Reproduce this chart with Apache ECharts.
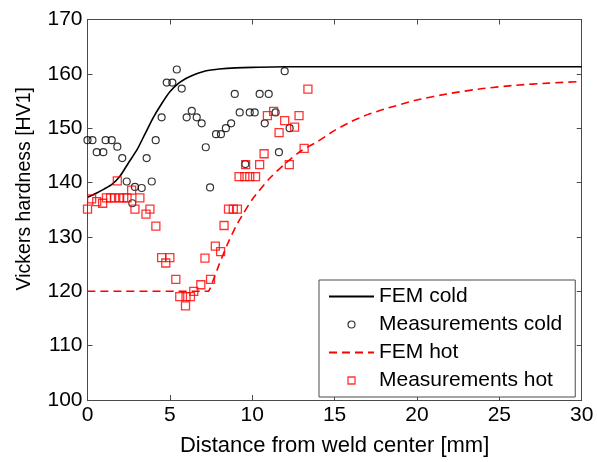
<!DOCTYPE html>
<html>
<head>
<meta charset="utf-8">
<script src="https://cdn.jsdelivr.net/npm/echarts@6/dist/echarts.min.js"></script>
<style>
html,body{margin:0;padding:0;background:#fff;}
#chart{width:597px;height:462px;}
</style>
</head>
<body>
<div id="chart"></div>
<script>
// FEM cold (model curve)
const femColdX = [0,0.5,1,1.5,2,2.5,3,3.5,4,4.5,5,5.5,6,6.5,7,7.5,8,9,10,12,15,20,25,30];
const femColdY = [137.3,138.0,138.8,139.7,141.3,143.7,146.0,149.0,152.0,154.5,156.7,158.2,159.2,159.9,160.4,160.7,160.9,161.1,161.2,161.3,161.3,161.3,161.3,161.3];

// Measurements cold
const measColdX = [0,0.3,0.56,0.96,1.1,1.47,1.81,2.11,2.38,2.72,2.88,3.29,3.59,3.9,4.14,4.5,4.81,5.15,5.42,5.72,6.02,6.33,6.63,6.93,7.18,7.44,7.8,8.1,8.4,8.72,8.94,9.24,9.58,9.85,10.15,10.45,10.76,11.0,11.42,11.62,11.97,12.27];
const measColdY = [147.8,147.8,145.6,145.6,147.8,147.8,146.6,144.5,140.2,136.2,139.2,139.0,144.5,140.2,147.8,152.0,158.4,158.4,160.8,157.3,152.0,153.2,152.0,150.9,146.5,139.1,148.9,148.9,150.0,150.9,156.3,152.9,143.4,152.9,152.9,156.3,150.9,156.3,152.9,145.6,160.5,150.0];

// FEM hot (model curve)
const femHotX = [0,7.3,7.6,8,8.5,9,9.5,10,11,12,13,14,15,16,17,18,20,22,24,26,28,30];
const femHotY = [120,120,121.8,125.0,128.7,131.9,134.5,136.9,140.6,143.5,145.9,147.6,149.6,151.2,152.5,153.5,155.2,156.4,157.3,157.9,158.3,158.6];

// Measurements hot
const measHotX = [0,0.25,0.56,0.92,1.15,1.4,1.65,1.81,1.95,2.2,2.4,2.68,2.88,3.18,3.55,3.79,4.15,4.5,4.75,5.0,5.36,5.6,5.95,5.98,6.25,6.45,6.88,7.13,7.47,7.76,8.08,8.29,8.56,8.85,9.1,9.2,9.55,9.85,10.2,9.6,10.45,10.72,10.92,11.3,11.63,11.97,12.25,12.57,12.84,13.15,13.38];
const measHotY = [135.1,137.0,136.5,136.2,137.2,137.2,137.2,140.3,137.2,137.2,137.2,138.6,135.1,137.2,134.2,135.1,132.0,126.2,125.2,126.2,122.2,119.0,117.3,119.0,119.0,120.0,121.2,126.1,122.2,128.3,127.3,132.1,135.1,135.1,135.1,141.1,141.1,141.1,141.1,143.3,143.3,145.3,152.3,153.1,149.2,151.4,143.3,150.2,152.3,146.3,157.2];

// Axis ticks
const xTicks = {min: 0, max: 30, interval: 5};
const yTicks = {min: 100, max: 170, interval: 10};

const seriesNames = ['FEM cold', 'Measurements cold', 'FEM hot', 'Measurements hot'];
const xTitle = 'Distance from weld center [mm]';
const yTitle = 'Vickers hardness [HV1]';

function zip(xs, ys) { return xs.map((x, i) => [x, ys[i]]); }

const FONT = '"Liberation Sans", Arial, Helvetica, sans-serif';
const AXIS_COLOR = '#4a4a4a';
const SQUARE = 'path://M0,0L10,0L10,10L0,10Z';

const chart = echarts.init(document.getElementById('chart'), null, {renderer: 'canvas'});

const baseX = {
  type: 'value', min: xTicks.min, max: xTicks.max, interval: xTicks.interval,
  axisLine: {show: true, onZero: false, lineStyle: {color: AXIS_COLOR, width: 1}},
  axisTick: {show: true, inside: true, length: 5, lineStyle: {color: AXIS_COLOR}},
  splitLine: {show: false}
};
const baseY = {
  type: 'value', min: yTicks.min, max: yTicks.max, interval: yTicks.interval,
  axisLine: {show: true, onZero: false, lineStyle: {color: AXIS_COLOR, width: 1}},
  axisTick: {show: true, inside: true, length: 5, lineStyle: {color: AXIS_COLOR}},
  splitLine: {show: false}
};

chart.setOption({
  animation: false,
  backgroundColor: '#fff',
  textStyle: {fontFamily: FONT},
  grid: {left: 87.5, right: 15.3, top: 19.5, bottom: 58.5, containLabel: false},
  xAxis: [
    Object.assign({}, baseX, {
      position: 'bottom',
      axisLabel: {show: true, color: '#000', fontSize: 21, fontFamily: FONT, margin: 5},
      name: xTitle, nameLocation: 'middle', nameGap: 35,
      nameTextStyle: {color: '#000', fontSize: 22, fontFamily: FONT}
    }),
    Object.assign({}, baseX, {position: 'top', axisLabel: {show: false}})
  ],
  yAxis: [
    Object.assign({}, baseY, {
      position: 'left',
      axisLabel: {show: true, color: '#000', fontSize: 21, fontFamily: FONT, margin: 5},
      name: yTitle, nameLocation: 'middle', nameGap: 53,
      nameTextStyle: {color: '#000', fontSize: 19.5, fontFamily: FONT, padding: [0, 0, 0, 42]}
    }),
    Object.assign({}, baseY, {position: 'right', axisLabel: {show: false}})
  ],
  legend: {
    orient: 'vertical',
    left: 319, top: 280,
    itemWidth: 45, itemHeight: 7, itemGap: 7,
    symbolKeepAspect: true,
    padding: [6, 13, 6, 9],
    backgroundColor: '#fff',
    borderColor: AXIS_COLOR, borderWidth: 1,
    textStyle: {color: '#000', fontSize: 21, fontFamily: FONT},
    data: [
      {name: seriesNames[0], itemStyle: {opacity: 0}},
      {name: seriesNames[1], icon: 'circle', itemStyle: {color: 'rgba(0,0,0,0)', borderColor: '#000', borderWidth: 1.2}},
      {name: seriesNames[2], itemStyle: {opacity: 0}},
      {name: seriesNames[3], icon: SQUARE, itemStyle: {color: 'rgba(0,0,0,0)', borderColor: '#ff0000', borderWidth: 1.3}}
    ]
  },
  series: [
    {
      name: seriesNames[0], type: 'line', data: zip(femColdX, femColdY),
      symbol: 'none', smooth: 0.25, xAxisIndex: 0, yAxisIndex: 0,
      lineStyle: {color: '#000', width: 1.6}, itemStyle: {color: '#000'}, z: 2
    },
    {
      name: seriesNames[1], type: 'scatter', data: zip(measColdX, measColdY),
      symbol: 'circle', symbolSize: 7, xAxisIndex: 0, yAxisIndex: 0,
      itemStyle: {color: 'rgba(0,0,0,0)', borderColor: '#000', borderWidth: 1.2}, z: 3
    },
    {
      name: seriesNames[2], type: 'line', data: zip(femHotX, femHotY),
      symbol: 'none', smooth: 0.2, xAxisIndex: 0, yAxisIndex: 0,
      lineStyle: {color: '#ff0000', width: 1.6, type: [8, 5]}, itemStyle: {color: '#ff0000'}, z: 2
    },
    {
      name: seriesNames[3], type: 'scatter', data: zip(measHotX, measHotY),
      symbol: 'rect', symbolSize: 8, xAxisIndex: 0, yAxisIndex: 0,
      itemStyle: {color: 'rgba(0,0,0,0)', borderColor: '#ff0000', borderWidth: 1.3}, z: 3
    }
  ]
});
</script>
</body>
</html>
